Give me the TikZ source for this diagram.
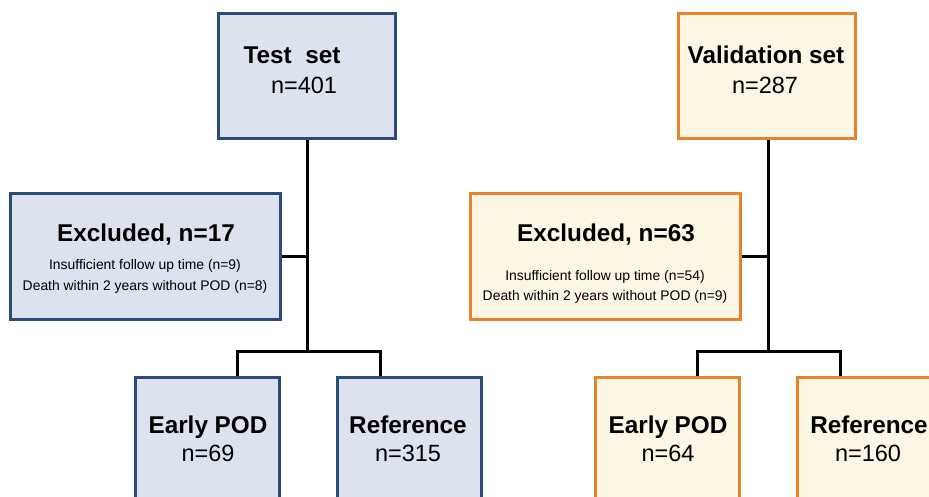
\documentclass[tikz,border=0pt]{standalone}
\usepackage{fontspec}
\setmainfont{Liberation Sans}
\definecolor{bluefill}{RGB}{220,227,238}
\definecolor{blueline}{RGB}{44,74,122}
\definecolor{orfill}{RGB}{251,247,228}
\definecolor{orline}{RGB}{232,130,44}
\tikzset{
  bbox/.style={draw=blueline,fill=bluefill,line width=3pt,inner sep=0pt},
  obox/.style={draw=orline,fill=orfill,line width=3pt,inner sep=0pt},
  big/.style={font=\fontsize{24.3}{28}\selectfont\bfseries,anchor=base,inner sep=0pt},
  num/.style={font=\fontsize{23.5}{27}\selectfont,anchor=base,inner sep=0pt},
  small/.style={font=\fontsize{13.9}{16}\selectfont,anchor=base,inner sep=0pt},
  conn/.style={line width=3pt,black}
}
\begin{document}
\begin{tikzpicture}[x=1pt,y=-1pt]
\useasboundingbox (0,0) rectangle (929,496);
\fill[white] (0,0) rectangle (929,496);
\clip (0,0) rectangle (929,496);
% left column
\node[bbox,minimum width=177pt,minimum height=125pt] (test) at (307,75.5) {};
\node[big] (testT) at (292,63) {Test\ \ set};
\node[num] (testN) at (304,93) {n=401};
\node[bbox,minimum width=270pt,minimum height=126pt] (exL) at (145,256) {};
\node[big] (exLT) at (146,241) {Excluded, n=17};
\node[small] (exL1) at (145,269) {Insufficient follow up time (n=9)};
\node[small] (exL2) at (145,290) {Death within 2 years without POD (n=8)};
\node[bbox,minimum width=144pt,minimum height=140pt] (epL) at (207,447) {};
\node[big] (epLT) at (208,433) {Early POD};
\node[num] (epLN) at (208,461) {n=69};
\node[bbox,minimum width=144pt,minimum height=140pt] (refL) at (409,447) {};
\node[big] (refLT) at (408,433) {Reference};
\node[num] (refLN) at (408,461) {n=315};
\coordinate (barL) at (307,351);
\draw[conn] (test.south) -- (barL);
\draw[conn] (exL.east) -- (exL.east -| test.south);
\draw[conn] (epL.north -| 237,0) |- (barL) -| (refL.north -| 380,0);
% right column
\node[obox,minimum width=177pt,minimum height=125pt] (val) at (766.5,75.5) {};
\node[big] (valT) at (766,63) {Validation set};
\node[num] (valN) at (765,93) {n=287};
\node[obox,minimum width=270pt,minimum height=126pt] (exR) at (605,256) {};
\node[big] (exRT) at (606,241) {Excluded, n=63};
\node[small] (exR1) at (605,280) {Insufficient follow up time (n=54)};
\node[small] (exR2) at (605,300) {Death within 2 years without POD (n=9)};
\node[obox,minimum width=144pt,minimum height=140pt] (epR) at (667,447) {};
\node[big] (epRT) at (668,433) {Early POD};
\node[num] (epRN) at (668,461) {n=64};
\node[obox,minimum width=144pt,minimum height=140pt] (refR) at (869,447) {};
\node[big] (refRT) at (869,433) {Reference};
\node[num] (refRN) at (868,461) {n=160};
\coordinate (barR) at (768,351);
\draw[conn] (val.south -| barR) -- (barR);
\draw[conn] (exR.east) -- (exR.east -| barR);
\draw[conn] (epR.north -| 697,0) |- (barR) -| (refR.north -| 840,0);
\end{tikzpicture}
\end{document}
